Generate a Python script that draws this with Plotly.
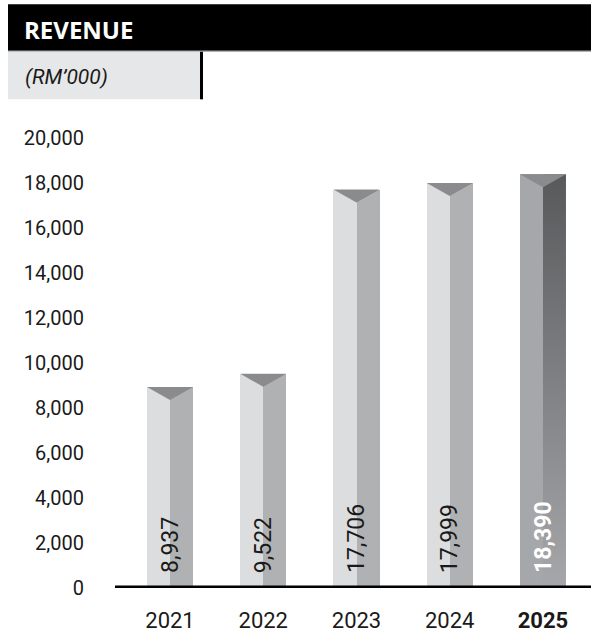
import plotly.graph_objects as go

# Revenue by financial year (RM'000)
years = ["2021", "2022", "2023", "2024", "2025"]
revenue = [8937, 9522, 17706, 17999, 18390]
y_ticks = [0, 2000, 4000, 6000, 8000, 10000, 12000, 14000, 16000, 18000, 20000]

W, H = 591, 633
L, R, T, B = 115, 0, 138, 41
PW, PH = W - L - R, H - T - B

xs = list(range(len(years)))
half = 0.2467
latest = len(years) - 1

left_colors = ["#dcdddf"] * latest + ["#a6a7aa"]
right_colors = ["#b0b1b3"] * latest

fig = go.Figure()

# Left (lit) face of each column
fig.add_trace(go.Bar(
    x=xs, y=revenue, width=half, offset=-half,
    marker=dict(color=left_colors, line=dict(width=0)),
    hoverinfo="skip", showlegend=False,
))
# Right (shaded) face of the earlier columns
fig.add_trace(go.Bar(
    x=xs[:latest], y=revenue[:latest], width=half, offset=0,
    marker=dict(color=right_colors, line=dict(width=0)),
    hoverinfo="skip", showlegend=False,
))
# Right face of the latest year with a vertical gradient
xl, vl = xs[latest], revenue[latest]
fig.add_trace(go.Scatter(
    x=[xl, xl + half, xl + half, xl, xl],
    y=[0, 0, vl, vl, 0],
    fill="toself", mode="lines", line=dict(width=0),
    fillgradient=dict(type="vertical",
                      colorscale=[[0, "#a6a7aa"], [1, "#58595b"]]),
    hoverinfo="skip", showlegend=False,
))

shapes = []
# Bevelled top of each column
for x, v in zip(xs, revenue):
    shapes.append(dict(
        type="path", xref="x", yref="y", ysizemode="pixel", yanchor=v,
        path=f"M {x - half},0 L {x + half},0 L {x},-13 Z",
        fillcolor="#8b8b8d", line=dict(width=0), layer="above",
    ))

# Baseline
shapes.append(dict(type="line", xref="paper", yref="y", x0=0, x1=1, y0=0, y1=0,
                   line=dict(color="#000000", width=5), layer="above"))


def px(xp):
    return (xp - L) / PW


def py(yp):
    return (H - B - yp) / PH


# Header band and unit box
shapes += [
    dict(type="rect", xref="paper", yref="paper", x0=px(8), x1=px(W), y0=py(50), y1=py(3),
         fillcolor="#000000", line=dict(width=0)),
    dict(type="line", xref="paper", yref="paper", x0=px(8), x1=px(W), y0=py(50.5), y1=py(50.5),
         line=dict(color="#9a9a9a", width=1)),
    dict(type="rect", xref="paper", yref="paper", x0=px(8), x1=px(200), y0=py(99), y1=py(51),
         fillcolor="#e6e7e8", line=dict(width=0)),
    dict(type="line", xref="paper", yref="paper", x0=px(201.5), x1=px(201.5), y0=py(99), y1=py(51),
         line=dict(color="#000000", width=3)),
]

annotations = [
    dict(text="<b>REVENUE</b>", xref="paper", yref="paper", x=px(22), y=py(28.5),
         xanchor="left", yanchor="middle", showarrow=False,
         font=dict(family="Open Sans", size=24, color="#ffffff")),
    dict(text="<i>(RM’000)</i>", xref="paper", yref="paper", x=px(23), y=py(76),
         xanchor="left", yanchor="middle", showarrow=False,
         font=dict(family="Roboto", size=21, color="#1a1a1a")),
]

# Value labels written up the columns
for x, v in zip(xs, revenue):
    is_latest = x == latest
    annotations.append(dict(
        text=f"<b>{v:,}</b>" if is_latest else f"{v:,}",
        x=x, y=0, xref="x", yref="y", xanchor="center", yanchor="bottom",
        yshift=13, textangle=-90, showarrow=False,
        font=dict(family="Roboto", size=23,
                  color="#ffffff" if is_latest else "#1a1a1a"),
    ))

tick_text = [f"<b>{y}</b>" if i == latest else y for i, y in enumerate(years)]

fig.update_layout(
    width=W, height=H,
    margin=dict(l=L, r=R, t=T, b=B, pad=0),
    paper_bgcolor="#ffffff", plot_bgcolor="#ffffff",
    barmode="overlay", bargap=0,
    shapes=shapes, annotations=annotations,
    font=dict(family="Roboto", color="#1a1a1a"),
    xaxis=dict(range=[-0.59, 4.515], tickvals=xs, ticktext=tick_text,
               showgrid=False, zeroline=False, showline=False, ticks="",
               ticklabelstandoff=17, tickfont=dict(family="Roboto", size=22, color="#1a1a1a")),
    yaxis=dict(range=[0, 20000], tickvals=y_ticks, tickformat=",",
               showgrid=False, zeroline=False, showline=False, ticks="",
               ticklabelstandoff=30, tickfont=dict(family="Roboto", size=20, color="#1a1a1a")),
)

fig.write_html("out.html")
